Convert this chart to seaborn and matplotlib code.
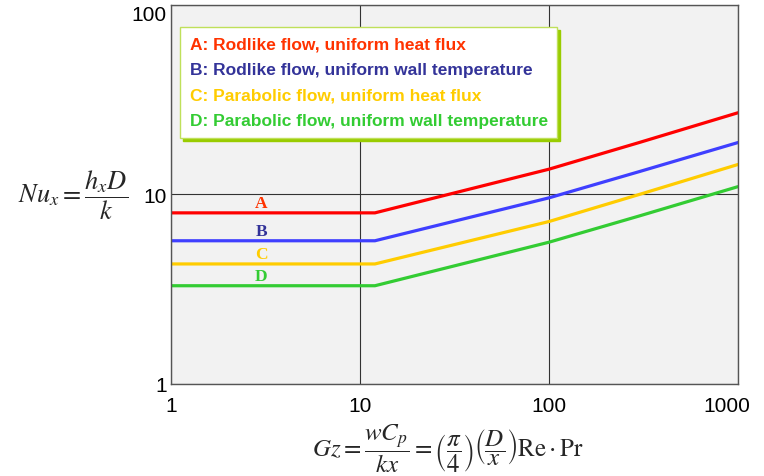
import numpy as np
import pandas as pd
import matplotlib
matplotlib.use('Agg')
import matplotlib.pyplot as plt
import matplotlib.transforms as mtransforms
from matplotlib.lines import Line2D
import seaborn as sns

# Graetz number and local Nusselt number
gz = [1, 12, 100, 300, 1000]
nu_a = [8.0, 8.0, 13.6, 18.8, 27.0]
nu_b = [5.7, 5.7, 9.6, 13.2, 18.8]
nu_c = [4.3, 4.3, 7.2, 10.0, 14.4]
nu_d = [3.3, 3.3, 5.6, 7.7, 11.0]

cases = ['A', 'B', 'C', 'D']
legend_labels = ['A: Rodlike flow, uniform heat flux',
                 'B: Rodlike flow, uniform wall temperature',
                 'C: Parabolic flow, uniform heat flux',
                 'D: Parabolic flow, uniform wall temperature']
line_colors = ['#ff0000', '#3f3fff', '#ffcc00', '#33cc33']
text_colors = ['#ff3300', '#333399', '#ffcc00', '#33cc33']

x_ticks = [1, 10, 100, 1000]
x_ticklabels = ['1', '10', '100', '1000']
y_ticks = [1, 10, 100]
y_ticklabels = ['1', '10', '100']

# Long table for seaborn
df = pd.concat([pd.DataFrame({'Gz': gz, 'Nu': v, 'case': c})
                for c, v in zip(cases, [nu_a, nu_b, nu_c, nu_d])],
               ignore_index=True)

sns.set_style('white')
plt.rcParams['font.family'] = ['Liberation Sans', 'DejaVu Sans']
plt.rcParams['mathtext.fontset'] = 'stix'

fig = plt.figure(figsize=(7.64, 4.77), dpi=100)
ax = fig.add_axes([0.2238, 0.1929, 0.7421, 0.7945])
ax.set_facecolor('#f2f2f2')

sns.lineplot(data=df, x='Gz', y='Nu', hue='case',
             palette=dict(zip(cases, line_colors)), linewidth=2.3,
             legend=False, ax=ax)

ax.set_xscale('log')
ax.set_yscale('log')
ax.set_xlim(1, 1000)
ax.set_ylim(1, 100)
ax.set_xticks(x_ticks)
ax.set_xticklabels(x_ticklabels)
ax.set_yticks(y_ticks)
ax.set_yticklabels(y_ticklabels)
ax.minorticks_off()
ax.tick_params(axis='both', length=0, labelsize=15, colors='black')
ax.tick_params(axis='x', pad=9)
ax.tick_params(axis='y', pad=3)
ax.grid(True, which='major', color='#333333', linewidth=0.8)
for s in ax.spines.values():
    s.set_color('#555555')
    s.set_linewidth(1.0)

# nudge the end tick labels like the original
lbl = ax.get_xticklabels()[-1]
lbl.set_transform(lbl.get_transform() +
                  mtransforms.ScaledTranslation(-0.11, 0, fig.dpi_scale_trans))
ax.get_yticklabels()[-1].set_va('top')

# curve letters
for c, v, col in zip(cases, [nu_a, nu_b, nu_c, nu_d], text_colors):
    ax.annotate(c, xy=(3, v[0]), xytext=(0, 7), textcoords='offset points',
                ha='center', va='center', family='Liberation Serif',
                weight='bold', size=12.5, color=col)

# legend box
handles = [Line2D([], [], linestyle='none') for _ in cases]
leg = ax.legend(handles, legend_labels, loc='upper left',
                bbox_to_anchor=(0.016, 0.942), borderaxespad=0,
                handlelength=0, handletextpad=0, borderpad=0.55,
                labelspacing=0.6, fancybox=False, framealpha=1,
                shadow={'color': '#99cc00', 'alpha': 1},
                prop={'weight': 'bold', 'size': 12.5})
leg.get_frame().set_edgecolor('#bfe05a')
leg.get_frame().set_linewidth(1.0)
for t, col in zip(leg.get_texts(), text_colors):
    t.set_color(col)

ax.set_ylabel(r'$Nu_x = \dfrac{h_x D}{k}$', rotation=0, ha='right',
              va='center', fontsize=19)
ax.yaxis.set_label_coords(-0.076, 0.5)
ax.set_xlabel(r'$Gz = \dfrac{wC_p}{kx} = \left(\dfrac{\pi}{4}\right)'
              r'\left(\dfrac{D}{x}\right)\mathrm{Re\cdot Pr}$',
              fontsize=18, va='center')
ax.xaxis.set_label_coords(0.489, -0.168)

fig.savefig('out.png', dpi=100)
